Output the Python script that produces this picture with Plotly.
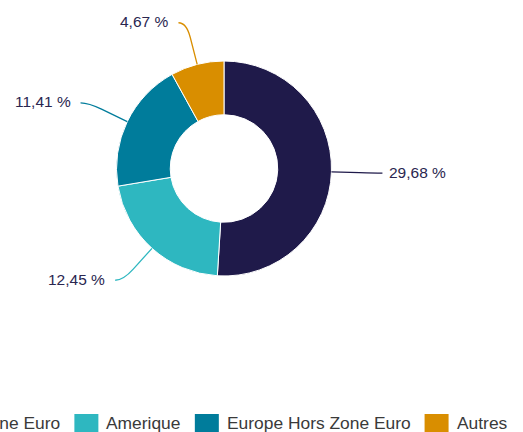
import math
import plotly.graph_objects as go

# ---- data ----
categories = ["Zone Euro", "Amerique", "Europe Hors Zone Euro", "Autres"]
values = [29.68, 12.45, 11.41, 4.67]
labels = ["29,68 %", "12,45 %", "11,41 %", "4,67 %"]
colors = ["#1f1a4a", "#2eb7c0", "#007c9b", "#d98e00"]

# ---- layout constants (pixels) ----
W, H = 523, 432
CX, CY, R = 224, 168.5, 107.5
HOLE = 0.5
LABEL_COLOR = "#2a2650"
LEGEND_COLOR = "#3a3a3a"
FONT = "Liberation Sans, Arial, sans-serif"
LABEL_SIZE = 15.5
LEGEND_SIZE = 17.4


def px(x):
    return x / W


def py(y):
    return 1 - y / H


fig = go.Figure()
fig.add_trace(go.Pie(
    labels=categories, values=values, hole=HOLE, sort=False,
    direction="clockwise", rotation=0,
    marker=dict(colors=colors, line=dict(color="#ffffff", width=1)),
    textinfo="none", hoverinfo="label+value", showlegend=False,
    domain=dict(x=[px(CX - R), px(CX + R)], y=[py(CY + R), py(CY - R)]),
))

shapes = []
annotations = []

# connectors + outside labels
total = sum(values)
cum = 0.0
for v, lab, col in zip(values, labels, colors):
    mid = 2 * math.pi * (cum + v / 2) / total
    cum += v
    s, c = math.sin(mid), math.cos(mid)

    def pt(r):
        return CX + r * s, CY - r * c

    ax, ay = pt(R)
    p1x, p1y = pt(R + 28)
    bx, by = pt(R + 43)
    side = 1 if s > 0 else -1
    ex, ey = bx + side * 8, by
    path = (f"M {px(ax)},{py(ay)} L {px(p1x)},{py(p1y)} "
            f"Q {px(bx)},{py(by)} {px(ex)},{py(ey)}")
    shapes.append(dict(type="path", xref="paper", yref="paper", path=path,
                       line=dict(color=col, width=1.3)))
    tx = ex + (5 if side > 0 else -8)
    annotations.append(dict(
        x=px(tx), y=py(ey - 1), xref="paper", yref="paper", text=lab,
        showarrow=False, xanchor="left" if side > 0 else "right",
        yanchor="middle", font=dict(family=FONT, size=LABEL_SIZE, color=LABEL_COLOR),
    ))

# manual horizontal legend (wider than the canvas, centred, clipped)
CW = {"Z": 611, "o": 556, "n": 556, "e": 556, " ": 278, "E": 667, "u": 556,
      "r": 333, "A": 667, "m": 833, "i": 222, "q": 556, "p": 556, "H": 722,
      "s": 500, "t": 278}


def text_w(t):
    return sum(CW.get(ch, 556) for ch in t) * LEGEND_SIZE / 1000


SW, GAP_IN, GAP_OUT = 24, 7, 15
LEG_CENTER, LEG_Y = 226.5, 423
widths = [text_w(t) for t in categories]
total_w = sum(SW + GAP_IN + w for w in widths) + GAP_OUT * (len(categories) - 1)
x = LEG_CENTER - total_w / 2
for cat, col, w in zip(categories, colors, widths):
    shapes.append(dict(type="rect", xref="paper", yref="paper",
                       x0=px(x), x1=px(x + SW), y0=py(414), y1=py(436),
                       fillcolor=col, line=dict(width=0)))
    annotations.append(dict(
        x=px(x + SW + GAP_IN - 1), y=py(LEG_Y), xref="paper", yref="paper",
        text=cat, showarrow=False, xanchor="left", yanchor="middle",
        font=dict(family=FONT, size=LEGEND_SIZE, color=LEGEND_COLOR),
    ))
    x += SW + GAP_IN + w + GAP_OUT

fig.update_layout(
    width=W, height=H, margin=dict(l=0, r=0, t=0, b=0),
    paper_bgcolor="#ffffff", plot_bgcolor="#ffffff",
    shapes=shapes, annotations=annotations, showlegend=False,
)

fig.write_html(
    "out.html",
    config={"displayModeBar": False},
    post_script="document.body.style.margin='0';document.body.style.overflow='hidden';",
)
